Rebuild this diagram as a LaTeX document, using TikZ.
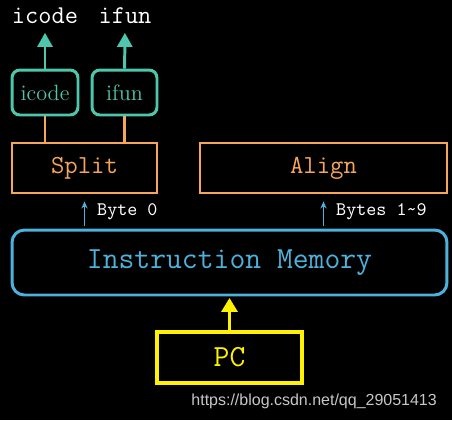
\documentclass[tikz,border=0pt]{standalone}
\usepackage{amsmath}
\usepackage{fontspec}
\newfontfamily\wmfont{Liberation Sans}
\usetikzlibrary{arrows.meta,positioning}

\definecolor{tealc}{RGB}{78,198,172}
\definecolor{orangec}{RGB}{246,166,90}
\definecolor{bluec}{RGB}{76,178,220}
\definecolor{yellowc}{RGB}{255,242,0}

\tikzset{
  tealbox/.style={draw=tealc,text=tealc,line width=1.7pt,rounded corners=4.5pt,
    minimum width=1.32cm,minimum height=0.9cm,font=\fontsize{12.6}{14}\selectfont},
  orangebox/.style={draw=orangec,text=orangec,line width=1.6pt,
    minimum height=1cm,font=\ttfamily\fontsize{14.8}{16}\selectfont},
  smallarr/.style={-{Stealth[length=4pt,width=3.5pt]},draw=bluec,line width=0.8pt},
}

\begin{document}
\begin{tikzpicture}[x=0.02cm,y=-0.02cm]
      \fill[black] (0,0) rectangle (452,420);
      \useasboundingbox (0,0) rectangle (452,420);

      \node[draw=bluec,text=bluec,line width=1.7pt,rounded corners=7pt,
            minimum width=8.7cm,minimum height=1.3cm,
            font=\ttfamily\fontsize{17.5}{19}\selectfont] (im) at (229.5,262.5) {Instruction Memory};
      \node[draw=yellowc,text=yellowc,line width=2pt,minimum width=2.9cm,minimum height=1.02cm,
            font=\ttfamily\fontsize{17.5}{19}\selectfont] (pc) at (229.5,357.5) {PC};

      \node[orangebox,minimum width=2.9cm] (split) at (84.5,168) {Split};
      \node[orangebox,minimum width=4.94cm] (align) at (323.5,168) {Align};

      \node[tealbox] (icode) at (45,92.5) {icode};
      \node[tealbox,minimum width=1.3cm] (ifun) at (124.5,92.5) {ifun};

      \node[text=white,font=\ttfamily\fontsize{14.6}{16}\selectfont] (icodeout) at (45,16) {icode};
      \node[text=white,font=\ttfamily\fontsize{14.6}{16}\selectfont] (ifunout) at (125,16) {ifun};

      %% PC into memory
      \draw[-{Triangle[length=8pt,width=9pt]},draw=yellowc,fill=yellowc,line width=2pt,shorten >=0.8pt] (pc) -- (im);

      %% bytes out of memory
      \draw[smallarr,shorten >=4pt,shorten <=1.2pt] (split.south |- im.north) -- node[right,text=white,xshift=3.5pt,
            font=\ttfamily\fontsize{10.9}{12}\selectfont] {Byte 0} (split);
      \draw[smallarr,shorten >=4pt,shorten <=1.2pt] (align.south |- im.north) -- node[right,text=white,xshift=3.5pt,
            font=\ttfamily\fontsize{10.9}{12}\selectfont] {Bytes 1\textasciitilde9} (align);

      %% split into fields
      \draw[draw=orangec,line width=1.6pt] (icode.south |- split.north) -- (icode);
      \draw[draw=orangec,line width=1.6pt] (ifun.south |- split.north) -- (ifun);

      \draw[-{Triangle[length=8pt,width=8.5pt]},draw=tealc,fill=tealc,line width=1.7pt,shorten >=1.5pt] (icode) -- (icodeout);
      \draw[-{Triangle[length=8pt,width=8.5pt]},draw=tealc,fill=tealc,line width=1.7pt,shorten >=1.5pt] (ifun) -- (ifunout);

      \node[anchor=east,text=black!22!white,font=\wmfont\fontsize{9.1}{10}\selectfont] (wm) at (443,401) {https://blog.csdn.net/qq\_29051413};
    \end{tikzpicture}
\end{document}
